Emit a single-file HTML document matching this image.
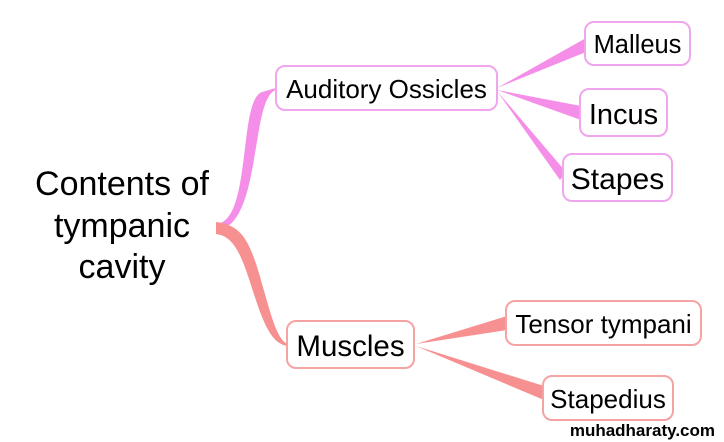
<!DOCTYPE html>
<html><head><meta charset="utf-8"><style>
html,body{margin:0;padding:0;background:#fff;width:724px;height:442px;overflow:hidden}
svg{display:block}
text{font-family:"Liberation Sans",Arial,sans-serif;fill:#000}
</style></head><body>
<svg width="724" height="442" viewBox="0 0 724 442" xmlns="http://www.w3.org/2000/svg">
<path d="M216,224 C252,222 238,100 262,92 L276,88 L276,90 C250,98 262,224 218,230 Z" fill="#f58ee8"/>
<path d="M216,222 C240,225 248,238 258,270 C270,310 276,340 288,344 L288,346 C268,344 260,312 248,276 C238,246 230,236 216,234 Z" fill="#f79090"/>
<g fill="#f58ee8">
<polygon points="497,88 586,38 586,52"/>
<polygon points="497,90 581,106 581,120"/>
<polygon points="497,91 566,172 560,180"/>
</g>
<g fill="#f79090">
<polygon points="416,344 507,316 507,330"/>
<polygon points="416,346 544,386 544,400"/>
</g>
<g fill="#fff" stroke-width="2">
<rect x="276" y="66" width="221" height="44" rx="9" stroke="#f0a6ec"/>
<rect x="585" y="22" width="105" height="43" rx="9" stroke="#f0a6ec"/>
<rect x="580" y="89" width="87" height="47" rx="9" stroke="#f0a6ec"/>
<rect x="563" y="154" width="109" height="47" rx="9" stroke="#f0a6ec"/>
<rect x="287" y="321" width="127" height="47" rx="9" stroke="#f5a3a3"/>
<rect x="506" y="301" width="195" height="44" rx="9" stroke="#f5a3a3"/>
<rect x="543" y="376" width="130" height="44" rx="9" stroke="#f5a3a3"/>
</g>
<text x="122" y="195" font-size="34" text-anchor="middle">Contents of</text>
<text x="122" y="237" font-size="34" text-anchor="middle">tympanic</text>
<text x="122" y="278" font-size="34" text-anchor="middle">cavity</text>
<text x="386.5" y="98" font-size="26" text-anchor="middle">Auditory Ossicles</text>
<text x="637.5" y="53" font-size="25.5" text-anchor="middle">Malleus</text>
<text x="623.5" y="124" font-size="29" text-anchor="middle">Incus</text>
<text x="617.5" y="189" font-size="30" text-anchor="middle">Stapes</text>
<text x="350.5" y="356" font-size="29.5" text-anchor="middle">Muscles</text>
<text x="603.5" y="333" font-size="26" text-anchor="middle">Tensor tympani</text>
<text x="608" y="408" font-size="26" text-anchor="middle">Stapedius</text>
<text x="715" y="436" font-size="17" font-weight="bold" text-anchor="end" fill="#111">muhadharaty.com</text>
</svg>
</body></html>
